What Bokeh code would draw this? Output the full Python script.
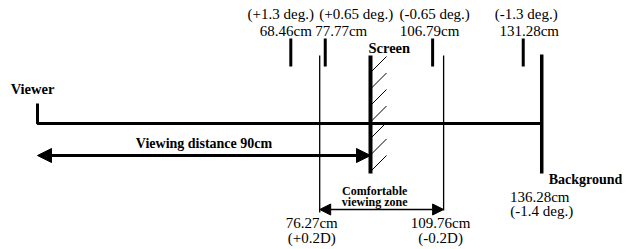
from bokeh.plotting import figure
from bokeh.models import Range1d, Arrow, NormalHead, ColumnDataSource
from bokeh.core.properties import value
from bokeh.embed import file_html
from bokeh.resources import INLINE

# ---- data (distances in cm) ----
viewer_cm = 0.0
screen_cm = 90.0
background_cm = 136.28
zone_cm = [76.27, 109.76]
zone_labels = ["76.27cm", "109.76cm"]
zone_diopters = ["(+0.2D)", "(-0.2D)"]
marker_cm = [68.46, 77.77, 106.79, 131.28]
marker_labels = ["68.46cm", "77.77cm", "106.79cm", "131.28cm"]
marker_deg = ["(+1.3 deg.)", "(+0.65 deg.)", "(-0.65 deg.)", "(-1.3 deg.)"]
background_label = "136.28cm"
background_deg = "(-1.4 deg.)"
viewing_distance_label = "Viewing distance 90cm"

# ---- layout ----
PX_PER_CM = 3.7
X0 = 37.0
def px(d):
    return d / PX_PER_CM

FONT = "Liberation Serif"
W, H = 638, 249
p = figure(width=W, height=H,
           x_range=Range1d(-X0 / PX_PER_CM, (W - X0) / PX_PER_CM),
           y_range=Range1d(H, 0),
           output_backend="svg", toolbar_location=None, min_border=0)
p.axis.visible = False
p.grid.visible = False
p.outline_line_color = None
p.background_fill_color = "white"
p.border_fill_color = "white"

Y_MAIN = 123
p.line([viewer_cm, viewer_cm, background_cm], [103, Y_MAIN, Y_MAIN], line_width=3, color="black")
p.line([background_cm, background_cm], [54, 173], line_width=3.5, color="black")
p.line([screen_cm, screen_cm], [55, 173], line_width=4, color="black")
hx, hy = [], []
for i in range(7):
    yb = 72 + 16.5 * i
    hx.append([screen_cm, screen_cm + px(16)])
    hy.append([yb, yb - 16])
p.multi_line(hx, hy, line_width=1, color="black")
p.multi_line([[z, z] for z in zone_cm], [[55, 212], [55, 210]], line_width=1.3, color="black")
p.multi_line([[m, m] for m in marker_cm], [[38, 66]] * len(marker_cm), line_width=3, color="black")

p.add_layout(Arrow(start=NormalHead(size=14, fill_color="black", line_color="black"),
                   end=NormalHead(size=14, fill_color="black", line_color="black"),
                   x_start=viewer_cm, y_start=155, x_end=screen_cm, y_end=155,
                   line_width=3, line_color="black"))
p.add_layout(Arrow(start=NormalHead(size=11, fill_color="black", line_color="black"),
                   end=NormalHead(size=11, fill_color="black", line_color="black"),
                   x_start=zone_cm[0], y_start=209, x_end=zone_cm[1], y_end=209,
                   line_width=1.5, line_color="black"))

def texts(xs, ys, labels, offsets, size, bold=False, align="center"):
    src = ColumnDataSource(dict(x=xs, y=ys, t=labels, xo=offsets))
    p.text(x="x", y="y", text="t", x_offset="xo", source=src,
           text_font=value(FONT), text_font_size=size,
           text_font_style="bold" if bold else "normal",
           text_align=align, text_baseline="middle", text_color="black")

texts(marker_cm, [13] * 4, marker_deg, [-10, 31, 2, 3], "15px")
texts(marker_cm, [30] * 4, marker_labels, [-5, 16, -3, 6], "15px")
texts([viewer_cm], [88], ["Viewer"], [-5], "14.5px", bold=True)
texts([screen_cm], [47], ["Screen"], [-2], "14.5px", bold=True, align="left")
texts([background_cm], [179], ["Background"], [7], "14px", bold=True, align="left")
texts([(viewer_cm + screen_cm) / 2], [143], [viewing_distance_label], [0], "14px", bold=True)
zone_mid = (zone_cm[0] + zone_cm[1]) / 2
texts([zone_mid, zone_mid], [190, 201], ["Comfortable", "viewing zone"], [-7, -7], "12px", bold=True)
texts([background_cm, background_cm], [196, 210], [background_label, background_deg], [-2, 0], "15px")
texts(zone_cm, [222, 222], zone_labels, [-8, -3], "15px")
texts(zone_cm, [237, 237], zone_diopters, [-8, -3], "15px")

open("out.html", "w").write(file_html(p, INLINE))
